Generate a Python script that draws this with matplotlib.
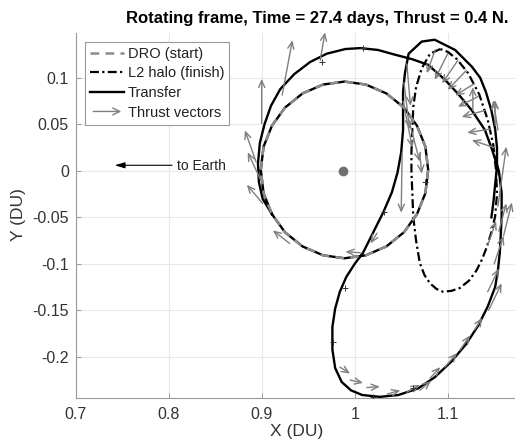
import matplotlib
matplotlib.use("Agg")
import matplotlib.pyplot as plt
from matplotlib.patches import FancyArrowPatch
from matplotlib.legend_handler import HandlerBase

plt.rcParams['font.family'] = ['Liberation Sans', 'DejaVu Sans']

# DRO start orbit
dro_x = [0.899, 0.902, 0.911, 0.925, 0.944, 0.966, 0.989, 1.012, 1.034, 1.053, 1.067, 1.076,
         1.079, 1.076, 1.067, 1.053, 1.034, 1.012, 0.989, 0.966, 0.944, 0.925, 0.911, 0.902, 0.899]
dro_y = [0.001, 0.026, 0.0485, 0.068, 0.0833, 0.0928, 0.096, 0.0928, 0.0833, 0.068, 0.0485, 0.026,
         0.001, -0.024, -0.0465, -0.066, -0.0813, -0.0908, -0.094, -0.0908, -0.0813, -0.066, -0.0465, -0.024, 0.001]

# L2 halo (finish orbit)
halo_x = [1.092, 1.081, 1.072, 1.066, 1.063, 1.062, 1.061, 1.061, 1.062, 1.063, 1.066, 1.070, 1.075,
          1.081, 1.088, 1.095, 1.104, 1.113, 1.123, 1.131, 1.137, 1.142, 1.147, 1.151, 1.153, 1.152,
          1.149, 1.143, 1.134, 1.122, 1.110, 1.100, 1.092]
halo_y = [0.131, 0.126, 0.110, 0.090, 0.069, 0.045, 0.020, 0.0, -0.025, -0.050, -0.075, -0.099, -0.112,
          -0.121, -0.127, -0.130, -0.129, -0.126, -0.118, -0.107, -0.095, -0.082, -0.066, -0.049, -0.025, 0.0,
          0.028, 0.055, 0.082, 0.105, 0.120, 0.128, 0.131]

# transfer: one lap on the DRO, then the spiral out to the halo
tr_x = [0.911, 0.902, 0.899, 0.902, 0.911, 0.925, 0.944, 0.966, 0.989, 1.012, 1.034, 1.053, 1.067,
        1.076, 1.079, 1.076, 1.067, 1.053, 1.034, 1.012, 0.989, 0.966, 0.944, 0.925, 0.911,
        0.901, 0.897, 0.896, 0.898, 0.903, 0.910, 0.920, 0.935, 0.952, 0.970, 0.990, 1.006, 1.025,
        1.043, 1.062, 1.079, 1.097, 1.111, 1.126, 1.140, 1.148, 1.155, 1.158, 1.158, 1.157, 1.156,
        1.154, 1.151, 1.143, 1.133, 1.120, 1.104, 1.086, 1.068, 1.047, 1.027, 1.008, 0.996, 0.986,
        0.979, 0.976, 0.976, 0.979, 0.984, 0.991, 1.000, 1.009, 1.020, 1.031, 1.040, 1.046, 1.050,
        1.052, 1.052, 1.052, 1.054, 1.058, 1.072, 1.086, 1.108, 1.126, 1.135, 1.141, 1.147, 1.151,
        1.153, 1.153, 1.151, 1.149, 1.147]
tr_y = [-0.0465, -0.024, 0.001, 0.026, 0.0485, 0.068, 0.0833, 0.0928, 0.096, 0.0928, 0.0833, 0.068,
        0.0485, 0.026, 0.001, -0.024, -0.0465, -0.066, -0.0813, -0.0908, -0.094, -0.0908, -0.0813,
        -0.066, -0.0465,
        -0.030, -0.012, 0.008, 0.030, 0.050, 0.070, 0.088, 0.104, 0.117, 0.126, 0.131, 0.132, 0.130,
        0.125, 0.120, 0.114, 0.098, 0.083, 0.065, 0.044, 0.022, 0.0, -0.024, -0.050, -0.070, -0.088,
        -0.107, -0.125, -0.146, -0.166, -0.186, -0.205, -0.222, -0.234, -0.241, -0.243, -0.241, -0.236,
        -0.227, -0.212, -0.192, -0.168, -0.148, -0.130, -0.114, -0.100, -0.088, -0.066, -0.044, -0.023,
        -0.002, 0.020, 0.044, 0.065, 0.085, 0.105, 0.126, 0.139, 0.141, 0.130, 0.112, 0.100, 0.085,
        0.065, 0.045, 0.025, 0.005, -0.015, -0.035, -0.050]

# thrust vectors: tail x, tail y, dx, dy
thr_x = [0.900, 0.922, 0.963, 0.894, 0.899, 0.901, 0.930, 1.006, 1.024,
         1.051, 1.056, 1.053, 1.052, 1.058, 1.070,
         1.0865, 1.100, 1.111, 1.120, 1.129, 1.133, 1.140, 1.146, 1.150,
         1.127, 1.151, 1.154, 1.154, 1.160, 1.143, 1.144,
         0.984, 0.995, 1.013, 1.035, 1.056, 1.070, 1.081, 1.097, 1.113, 1.129, 1.143, 1.150, 1.155]
thr_y = [0.051, 0.0815, 0.119, 0.0095, -0.010, -0.035, -0.078, -0.088, -0.067,
         0.020, 0.115, 0.095, 0.075, 0.055, 0.019,
         0.130, 0.126, 0.119, 0.108, 0.094, 0.080, 0.065, 0.045, 0.025,
         0.065, 0.049, 0.044, -0.038, -0.070, -0.080, -0.150,
         -0.211, -0.225, -0.233, -0.240, -0.238, -0.236, -0.223, -0.211, -0.193, -0.171, -0.130, -0.100, -0.065]
thr_u = [0.0, 0.011, 0.005, -0.012, -0.014, -0.017, -0.018, -0.016, -0.007,
         -0.001, 0.004, 0.006, 0.010, 0.012, 0.002,
         -0.009, -0.014, -0.017, -0.020, -0.021, -0.022, -0.025, -0.025, -0.024,
         0.0, 0.0, -0.005, 0.009, 0.009, 0.009, 0.014,
         0.011, 0.014, 0.014, 0.014, 0.014, 0.012, 0.011, 0.013, 0.011, 0.008, 0.012, 0.010, 0.008]
thr_v = [0.048, 0.059, 0.030, 0.034, 0.030, 0.020, 0.014, 0.001, -0.011,
         -0.065, -0.045, -0.050, -0.050, -0.045, -0.022,
         -0.025, -0.028, -0.025, -0.021, -0.013, -0.011, -0.007, -0.004, 0.008,
         0.025, 0.027, 0.032, 0.064, 0.036, 0.026, 0.029,
         -0.007, -0.003, 0.001, 0.004, 0.008, 0.010, 0.012, 0.015, 0.016, 0.013, 0.025, 0.030, 0.030]

# coast tick marks on the transfer
tick_x = [0.977, 0.990, 1.020, 1.063, 1.009, 0.965, 1.0756, 1.031]
tick_y = [-0.184, -0.126, -0.243, -0.234, 0.132, 0.117, -0.012, -0.044]

moon_x, moon_y = 0.9878, 0.0

ARROW_GRAY = '#7f7f7f'


class ArrowHandler(HandlerBase):
    def create_artists(self, legend, orig_handle, xdescent, ydescent, width, height, fontsize, trans):
        y = height / 2 - ydescent
        a = FancyArrowPatch((-xdescent, y), (-xdescent + width, y),
                            arrowstyle='->,head_length=0.5,head_width=0.25',
                            mutation_scale=10, color=ARROW_GRAY, lw=1, transform=trans)
        return [a]


fig = plt.figure(figsize=(5.15, 4.44), dpi=100)
ax = fig.add_axes([75.7 / 515, 46.5 / 444, (515 - 75.7) / 515, 364.8 / 444])

ax.grid(True, color='#e8e8e8', lw=0.8)
ax.set_axisbelow(True)

tr_line, = ax.plot(tr_x, tr_y, color='black', lw=1.7, zorder=3)
dro_line, = ax.plot(dro_x, dro_y, color='#8c8c8c', lw=1.8, ls=(0, (3.5, 2.5)), zorder=4)
halo_line, = ax.plot(halo_x, halo_y, color='black', lw=1.6, ls=(0, (4, 1.5, 1, 1.5)), zorder=2)

for x, y, u, v in zip(thr_x, thr_y, thr_u, thr_v):
    ax.annotate('', xy=(x + u, y + v), xytext=(x, y),
                arrowprops=dict(arrowstyle='->,head_length=0.5,head_width=0.22',
                                color=ARROW_GRAY, lw=1, shrinkA=0, shrinkB=0),
                zorder=5, annotation_clip=False)

ax.plot(tick_x, tick_y, '+', color='#333333', ms=5, mew=0.7, zorder=5)
ax.plot(moon_x, moon_y, 'o', color='#707070', ms=6, zorder=6)

ax.annotate('', xy=(0.742, 0.006), xytext=(0.8036, 0.006),
            arrowprops=dict(arrowstyle='-|>,head_length=0.6,head_width=0.18',
                            color='black', lw=0.8, shrinkA=0, shrinkB=0))
ax.text(0.809, 0.005, 'to Earth', fontsize=10, va='center', ha='left', color='#222222')

ax.set_xlim(0.7, 0.7 + (515 - 75.7) / 930)
ax.set_ylim(-0.2437, -0.2437 + 364.8 / 930)
ax.set_xticks([0.7, 0.8, 0.9, 1.0, 1.1])
ax.set_xticklabels(['0.7', '0.8', '0.9', '1', '1.1'])
ax.set_yticks([-0.2, -0.15, -0.1, -0.05, 0, 0.05, 0.1])
ax.set_yticklabels(['-0.2', '-0.15', '-0.1', '-0.05', '0', '0.05', '0.1'])
ax.tick_params(direction='in', length=3.5, width=0.7, color='#999999',
               labelcolor='#333333', labelsize=11.5)
ax.tick_params(axis='x', pad=7)
ax.tick_params(axis='y', pad=5)
for side in ['top', 'right']:
    ax.spines[side].set_visible(False)
for side in ['left', 'bottom']:
    ax.spines[side].set_color('#999999')
    ax.spines[side].set_linewidth(0.8)

arrow_proxy = FancyArrowPatch((0, 0), (1, 0))
leg = ax.legend([dro_line, halo_line, tr_line, arrow_proxy],
                ['DRO (start)', 'L2 halo (finish)', 'Transfer', 'Thrust vectors'],
                handler_map={arrow_proxy: ArrowHandler()},
                loc='upper left', bbox_to_anchor=(0.022, 0.975), fontsize=10.5,
                handlelength=2.3, handletextpad=0.25, labelspacing=0.38,
                borderpad=0.35, borderaxespad=0, fancybox=False, framealpha=1)
leg.get_frame().set_edgecolor('#999999')
leg.get_frame().set_linewidth(0.8)
for t in leg.get_texts():
    t.set_color('#222222')

fig.text(317 / 515, 1 - 18 / 444, 'Rotating frame, Time = 27.4 days, Thrust = 0.4 N.',
         ha='center', va='center', fontsize=12, fontweight='bold')
fig.text(296.5 / 515, 1 - 431 / 444, 'X (DU)', ha='center', va='center', fontsize=12.5, color='#333333')
fig.text(19 / 515, 1 - 215 / 444, 'Y (DU)', ha='center', va='center', rotation=90,
         fontsize=12.5, color='#333333')

fig.savefig('out.png', dpi=100)
